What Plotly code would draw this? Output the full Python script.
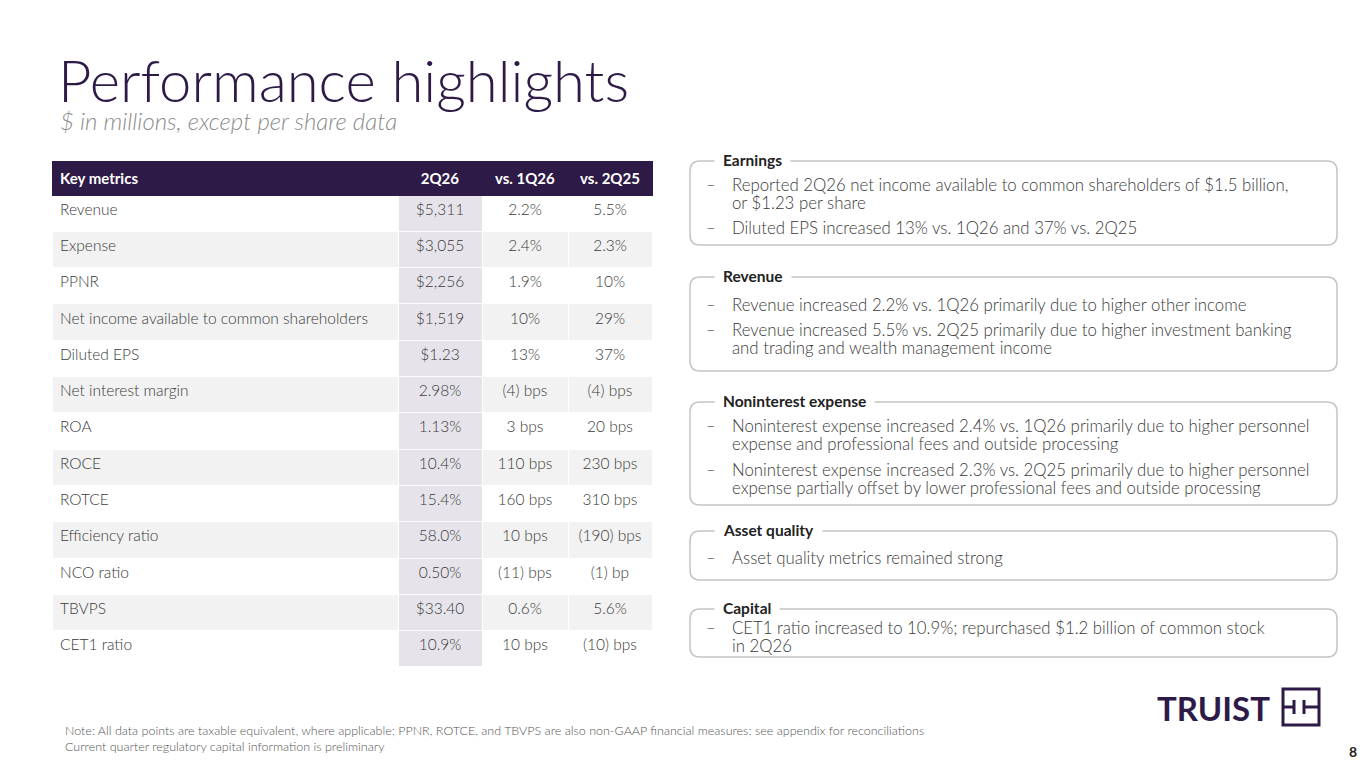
import plotly.graph_objects as go

# ---- data ----
metrics = ["Revenue", "Expense", "PPNR", "Net income available to common shareholders",
           "Diluted EPS", "Net interest margin", "ROA", "ROCE", "ROTCE",
           "Efficiency ratio", "NCO ratio", "TBVPS", "CET1 ratio"]
q2_26 = ["$5,311", "$3,055", "$2,256", "$1,519", "$1.23", "2.98%", "1.13%",
         "10.4%", "15.4%", "58.0%", "0.50%", "$33.40", "10.9%"]
vs_1q26 = ["2.2%", "2.4%", "1.9%", "10%", "13%", "(4) bps", "3 bps",
           "110 bps", "160 bps", "10 bps", "(11) bps", "0.6%", "10 bps"]
vs_2q25 = ["5.5%", "2.3%", "10%", "29%", "37%", "(4) bps", "20 bps",
           "230 bps", "310 bps", "(190) bps", "(1) bp", "5.6%", "(10) bps"]
headers = ["Key metrics", "2Q26", "vs. 1Q26", "vs. 2Q25"]

section_titles = ["Earnings", "Revenue", "Noninterest expense", "Asset quality", "Capital"]
section_bullets = [
    [["Reported 2Q26 net income available to common shareholders of $1.5 billion,", "or $1.23 per share"],
     ["Diluted EPS increased 13% vs. 1Q26 and 37% vs. 2Q25"]],
    [["Revenue increased 2.2% vs. 1Q26 primarily due to higher other income"],
     ["Revenue increased 5.5% vs. 2Q25 primarily due to higher investment banking",
      "and trading and wealth management income"]],
    [["Noninterest expense increased 2.4% vs. 1Q26 primarily due to higher personnel",
      "expense and professional fees and outside processing"],
     ["Noninterest expense increased 2.3% vs. 2Q25 primarily due to higher personnel",
      "expense partially offset by lower professional fees and outside processing"]],
    [["Asset quality metrics remained strong"]],
    [["CET1 ratio increased to 10.9%; repurchased $1.2 billion of common stock", "in 2Q26"]],
]

title = "Performance highlights"
subtitle = "$ in millions, except per share data"
note = ("Note: All data points are taxable equivalent, where applicable; PPNR, ROTCE, and TBVPS are also "
        "non-GAAP financial measures; see appendix for reconciliations<br>"
        "Current quarter regulatory capital information is preliminary")

# ---- style ----
W, H = 1365, 768
PURPLE = "#2e1a47"
TXT = "#3a3a3a"
FONT = "Lato"

fig = go.Figure()

# table
n = len(metrics)
stripe = ["#ffffff" if i % 2 == 0 else "#f2f2f2" for i in range(n)]
shade = ["#e6e4ea"] * n
tbl_top, tbl_bot = 161, 705
fig.add_trace(go.Table(
    domain=dict(x=[52 / W, 652 / W], y=[1 - tbl_bot / H, 1 - tbl_top / H]),
    columnwidth=[346, 84, 86, 84],
    header=dict(values=["<b>%s</b>" % h for h in headers],
                fill_color=PURPLE, line_color=PURPLE,
                font=dict(family=FONT, size=15, color="white"),
                align=["left", "center", "center", "center"], height=27),
    cells=dict(values=[metrics, q2_26, vs_1q26, vs_2q25],
               fill_color=[stripe, shade, stripe, stripe],
               line=dict(color="white", width=1),
               font=dict(family=FONT, size=15.5, color=TXT, weight=300),
               align=["left", "center", "center", "center"], height=36.3),
))

# right-side boxes
box_tops = [161, 277, 402, 531, 609]
box_bots = [245, 371, 505, 580, 657]
line_ys = [[[184, 202], [227]], [[304], [329, 347]], [[425, 443], [469, 487]], [[557]], [[627, 645]]]
x0, x1, r = 690, 1337, 10
shapes = []
for top, bot in zip(box_tops, box_bots):
    path = (f"M{x0 + r},{top} L{x1 - r},{top} Q{x1},{top} {x1},{top + r} "
            f"L{x1},{bot - r} Q{x1},{bot} {x1 - r},{bot} L{x0 + r},{bot} "
            f"Q{x0},{bot} {x0},{bot - r} L{x0},{top + r} Q{x0},{top} {x0 + r},{top} Z")
    shapes.append(dict(type="path", path=path, xref="x", yref="y",
                       line=dict(color="#c4c4c4", width=1.5), fillcolor="rgba(0,0,0,0)"))

ann = []
for t, top, bullets, ys in zip(section_titles, box_tops, section_bullets, line_ys):
    ann.append(dict(x=714, y=top - 1, text="<b>%s</b>" % t, xref="x", yref="y",
                    xanchor="left", yanchor="middle", showarrow=False,
                    bgcolor="white", borderpad=8,
                    font=dict(family=FONT, size=15.5, color="#222")))
    for b, yy in zip(bullets, ys):
        ann.append(dict(x=704, y=yy[0], text="–", xref="x", yref="y", xanchor="left",
                        yanchor="middle", showarrow=False,
                        font=dict(family=FONT, size=16.5, color=TXT, weight=300)))
        for line, y in zip(b, yy):
            ann.append(dict(x=730, y=y, text=line, xref="x", yref="y", xanchor="left",
                            yanchor="middle", showarrow=False,
                            font=dict(family=FONT, size=16.8, color=TXT, weight=300)))

# title, subtitle, note
ann.append(dict(x=56, y=79, text=title, xref="x", yref="y", xanchor="left", yanchor="middle",
                showarrow=False, font=dict(family=FONT, size=58, color=PURPLE, weight=300)))
ann.append(dict(x=58, y=120, text="<i>%s</i>" % subtitle, xref="x", yref="y", xanchor="left",
                yanchor="middle", showarrow=False, font=dict(family=FONT, size=24, color="#8c8c8c", weight=300)))
ann.append(dict(x=63, y=738, text=note, xref="x", yref="y", xanchor="left", yanchor="middle",
                align="left", showarrow=False, font=dict(family=FONT, size=12.5, color="#555", weight=300)))

# logo + page number
ann.append(dict(x=1155, y=708, text="<b>TRUIST</b>", xref="x", yref="y", xanchor="left", yanchor="middle",
                showarrow=False, font=dict(family=FONT, size=33, color=PURPLE)))
shapes.append(dict(type="rect", x0=1283, x1=1319, y0=689, y1=725, xref="x", yref="y",
                   line=dict(color=PURPLE, width=3)))
for xv in (1294, 1304):
    shapes.append(dict(type="line", x0=xv, x1=xv, y0=700, y1=714, xref="x", yref="y",
                       line=dict(color=PURPLE, width=3)))
for xa, xb in ((1283, 1294), (1304, 1319)):
    shapes.append(dict(type="line", x0=xa, x1=xb, y0=707, y1=707, xref="x", yref="y",
                       line=dict(color=PURPLE, width=3)))
ann.append(dict(x=1359, y=751, text="<b>8</b>", xref="x", yref="y", xanchor="right", yanchor="middle",
                showarrow=False, font=dict(family=FONT, size=14, color="#222")))

fig.update_layout(
    width=W, height=H, margin=dict(l=0, r=0, t=0, b=0),
    paper_bgcolor="white", plot_bgcolor="white",
    xaxis=dict(range=[0, W], visible=False, fixedrange=True, domain=[0, 1]),
    yaxis=dict(range=[H, 0], visible=False, fixedrange=True, domain=[0, 1]),
    shapes=shapes, annotations=ann, showlegend=False,
)

fig.write_html("out.html", config={"displayModeBar": False},
               post_script="document.body.style.margin='0';")
